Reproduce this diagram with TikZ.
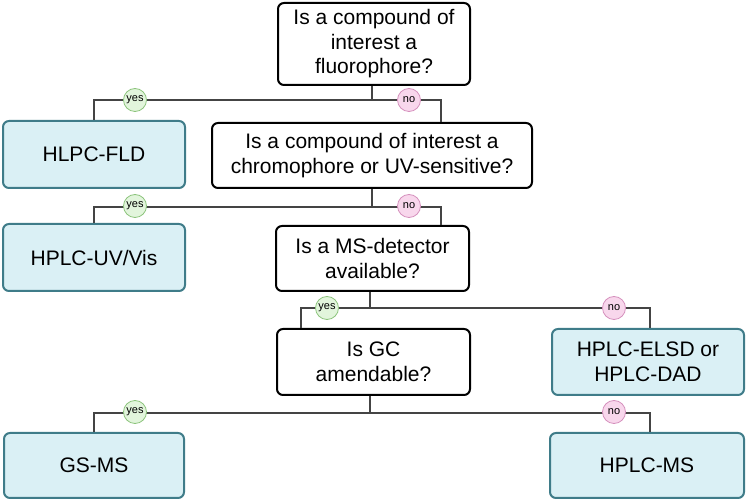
\documentclass[tikz,border=0pt]{standalone}
\usepackage{fontspec}
\setmainfont{Liberation Sans}
\usetikzlibrary{calc}
\definecolor{resfill}{HTML}{DAF0F5}
\definecolor{resdraw}{HTML}{3F7C89}
\definecolor{yesfill}{HTML}{E2F5DC}
\definecolor{yesdraw}{HTML}{8CC47C}
\definecolor{nofill}{HTML}{F8D7EC}
\definecolor{nodraw}{HTML}{D590BD}
\definecolor{conncol}{HTML}{444444}
\tikzset{
  qbox/.style={draw=black, line width=2pt, fill=white, rounded corners=6pt, align=center,
    inner sep=0pt, font=\fontsize{21}{24.5}\selectfont},
  rbox/.style={draw=resdraw, line width=2pt, fill=resfill, rounded corners=6pt, align=center,
    inner sep=0pt, font=\fontsize{21}{24.5}\selectfont},
  conn/.style={draw=conncol, line width=1.1pt},
  yeslab/.style={circle, draw=yesdraw, fill=yesfill, line width=0.8pt, minimum size=23pt,
    inner sep=0pt, font=\fontsize{11}{13}\selectfont},
  nolab/.style={circle, draw=nodraw, fill=nofill, line width=0.8pt, minimum size=23pt,
    inner sep=0pt, font=\fontsize{11}{13}\selectfont},
}
\begin{document}
\begin{tikzpicture}[x=1pt,y=-1pt]
\useasboundingbox (0,0) rectangle (748,502);
% nodes
\node[qbox, minimum width=192pt, minimum height=82pt] (q1) at (374,44) {Is a compound of\\interest a\\fluorophore?};
\node[rbox, minimum width=182pt, minimum height=67pt] (r1) at (94,154.5) {HLPC-FLD};
\node[qbox, minimum width=320pt, minimum height=65pt] (q2) at (372,155.5) {Is a compound of interest a\\chromophore or UV-sensitive?};
\node[rbox, minimum width=182pt, minimum height=67pt] (r2) at (94,257.5) {HPLC-UV/Vis};
\node[qbox, minimum width=193pt, minimum height=65pt] (q3) at (372.5,258.5) {Is a MS-detector\\available?};
\node[qbox, minimum width=193pt, minimum height=66pt] (q4) at (373.5,362) {Is GC\\amendable?};
\node[rbox, minimum width=192pt, minimum height=66pt] (r3) at (648,362) {HPLC-ELSD or\\HPLC-DAD};
\node[rbox, minimum width=180pt, minimum height=65pt] (r4) at (94,465.5) {GS-MS};
\node[rbox, minimum width=194pt, minimum height=65pt] (r5) at (647,465.5) {HPLC-MS};
% split points
\coordinate (s1) at (372,100);
\coordinate (s2) at (372,207);
\coordinate (s3) at (370,308);
\coordinate (s4) at (370,413);
% connectors
\draw[conn] (q1.south -| s1) -- (s1);
\draw[conn] (r1.north) |- (s1);
\draw[conn] (s1) -| ($(q2.north)+(69,0)$);
\draw[conn] (q2.south -| s2) -- (s2);
\draw[conn] (r2.north) |- (s2);
\draw[conn] (s2) -| ($(q3.north)+(68.5,0)$);
\draw[conn] (q3.south -| s3) -- (s3);
\draw[conn] ($(q4.north)+(-72.5,0)$) |- (s3);
\draw[conn] (s3) -| ($(r3.north)+(2,0)$);
\draw[conn] (q4.south -| s4) -- (s4);
\draw[conn] (r4.north) |- (s4);
\draw[conn] (s4) -| ($(r5.north)+(3,0)$);
% labels
\node[yeslab] (y1) at (135,100) {yes};
\node[nolab] (n1) at (409,100) {no};
\node[yeslab] (y2) at (135,206) {yes};
\node[nolab] (n2) at (409,206) {no};
\node[yeslab] (y3) at (327,308) {yes};
\node[nolab] (n3) at (614,308) {no};
\node[yeslab] (y4) at (135,412) {yes};
\node[nolab] (n4) at (614,412) {no};
\end{tikzpicture}
\end{document}
